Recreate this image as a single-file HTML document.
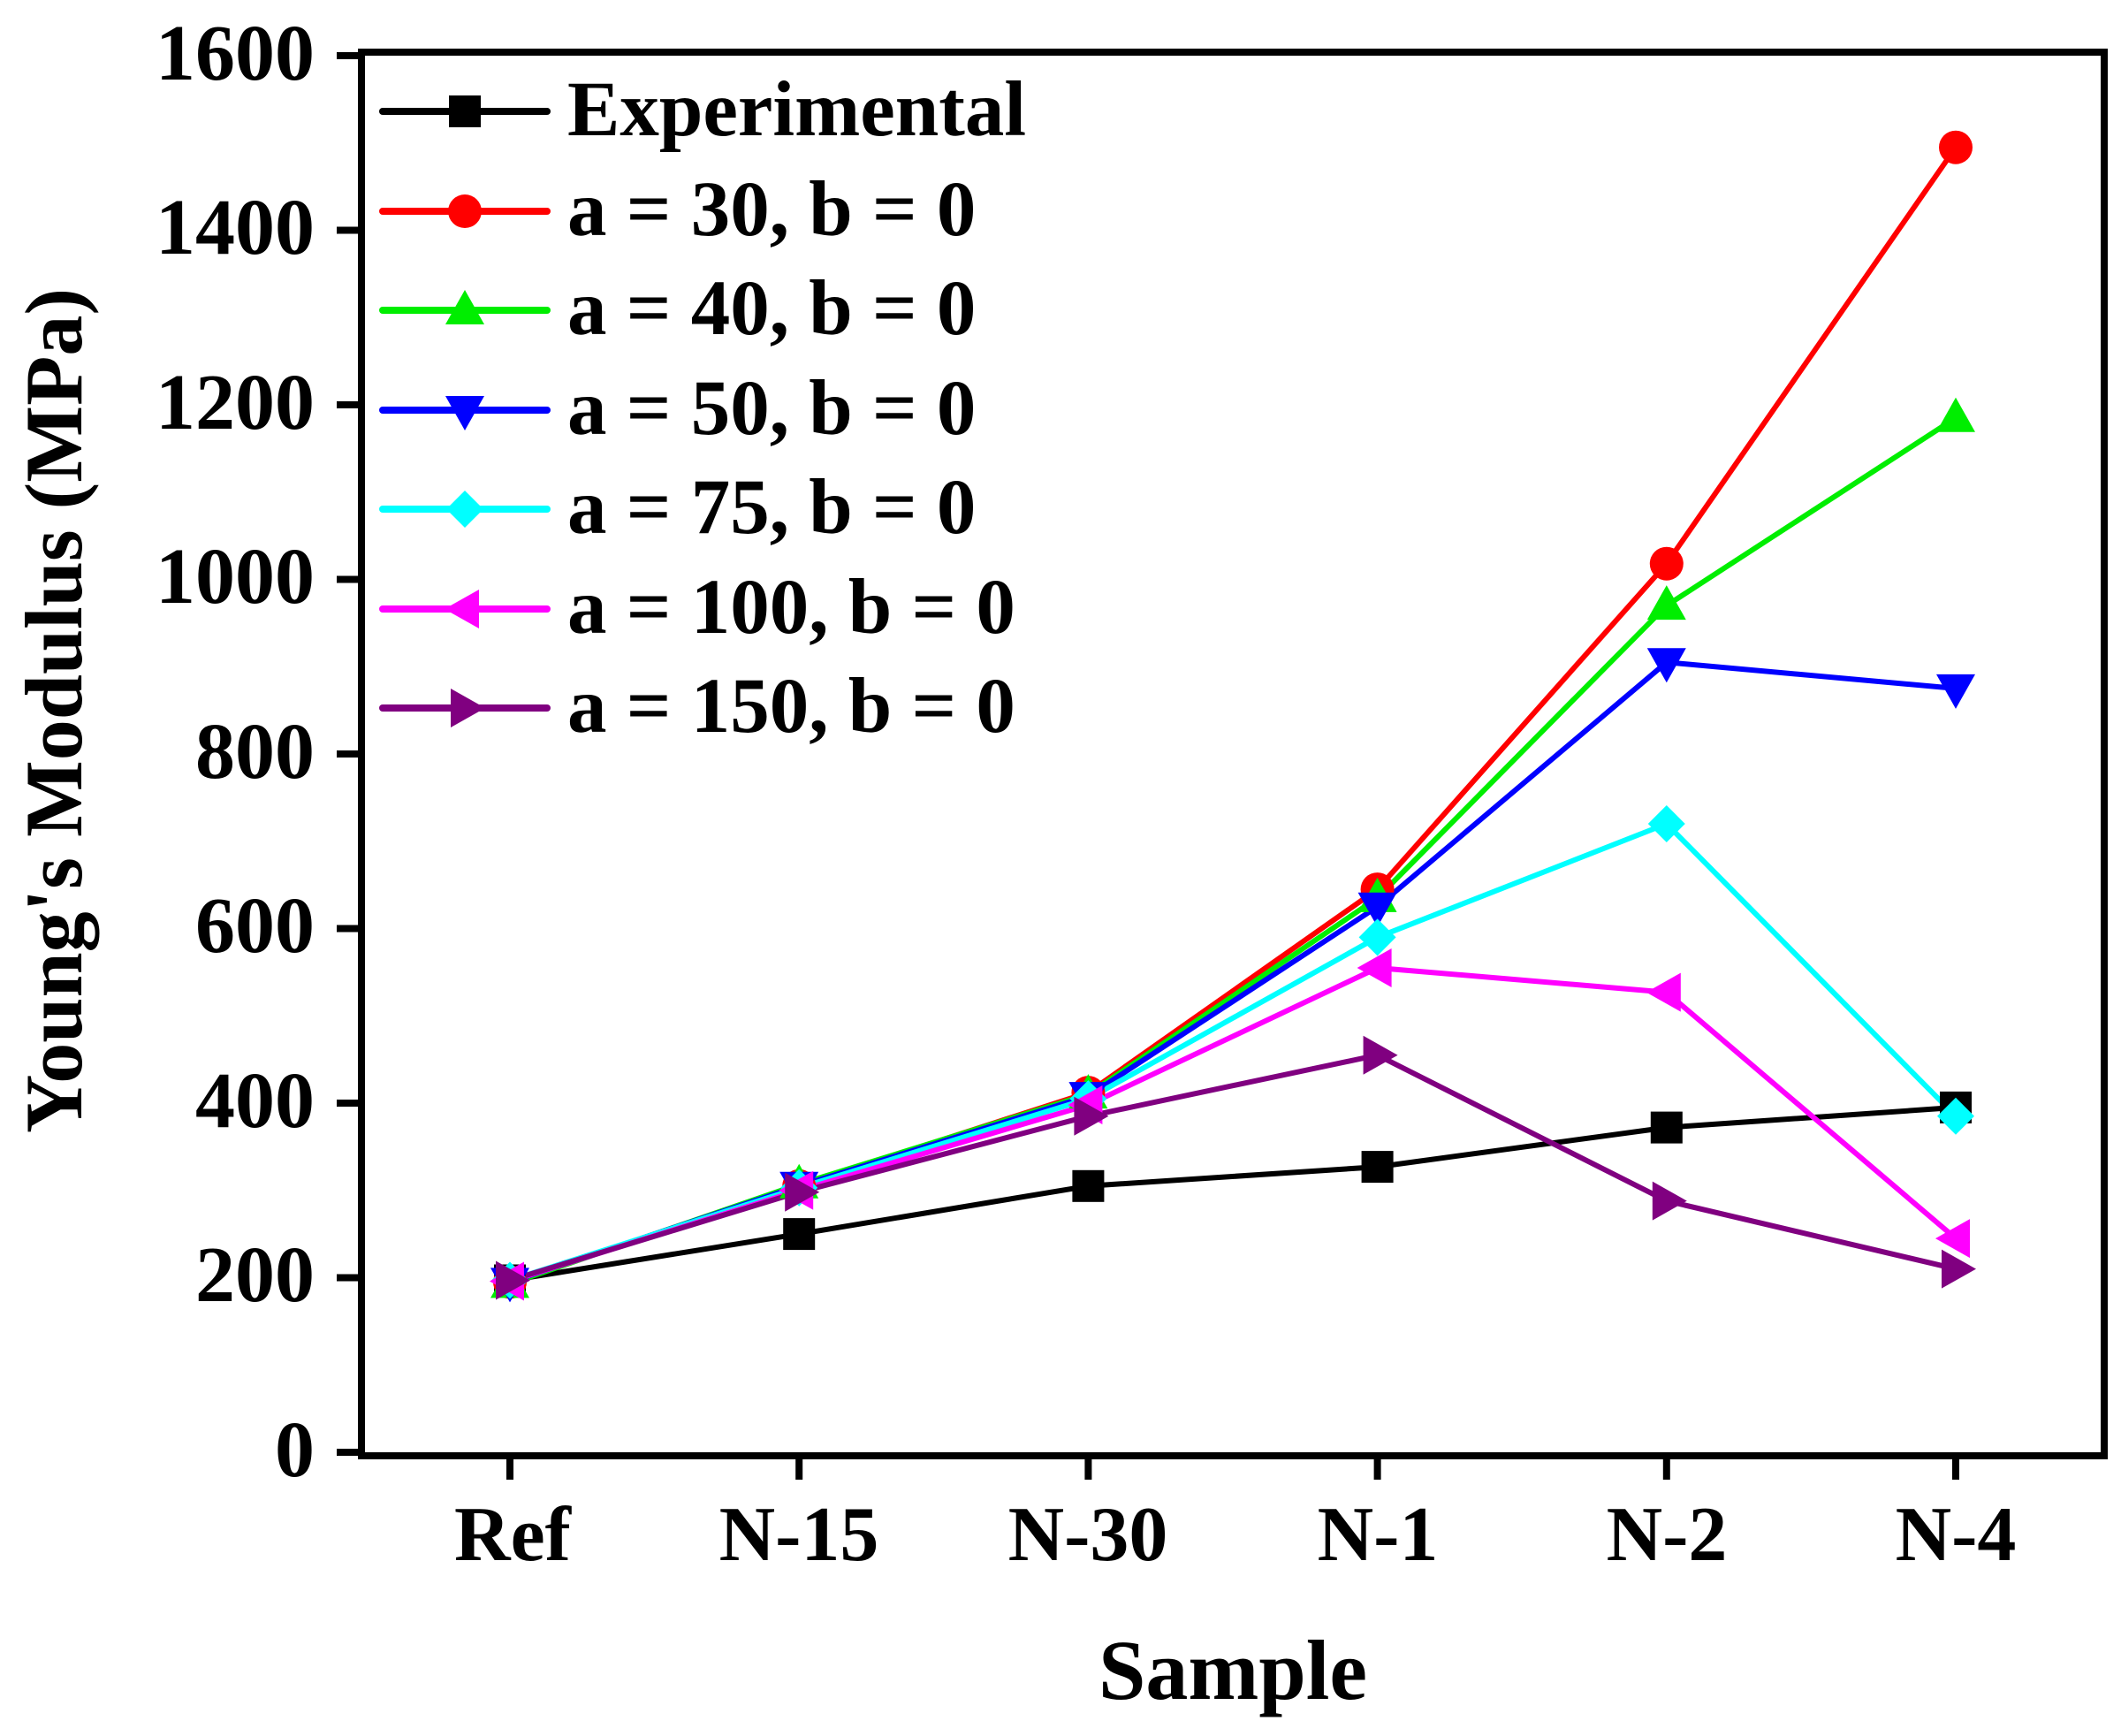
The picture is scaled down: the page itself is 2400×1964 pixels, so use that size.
<!DOCTYPE html>
<html><head><meta charset="utf-8"><style>
html,body{margin:0;padding:0;background:#fff}
svg{display:block}
text{font-family:"Liberation Serif",serif;font-weight:bold;fill:#000}
</style></head><body>
<svg width="2400" height="1964" viewBox="0 0 2400 1964" xmlns="http://www.w3.org/2000/svg">
<defs>
<rect id="sq" x="-18" y="-18" width="36" height="36" fill="#000"/>
<circle id="ci" r="19" fill="#ff0000"/>
<polygon id="tu" points="0,-23 22,16 -22,16" fill="#00ee00"/>
<polygon id="td" points="0,23 22,-16 -22,-16" fill="#0000ff"/>
<polygon id="di" points="0,-21 21,0 0,21 -21,0" fill="#00ffff"/>
<polygon id="tl" points="-23,0 16,-22 16,22" fill="#ff00ff"/>
<polygon id="tr" points="23,0 -16,-22 -16,22" fill="#800080"/>
</defs>
<rect x="409" y="59" width="1972" height="1588" fill="none" stroke="#000" stroke-width="8"/>
<g stroke="#000" stroke-width="8">
<line x1="381" y1="1643" x2="409" y2="1643"/>
<line x1="381" y1="1445.5" x2="409" y2="1445.5"/>
<line x1="381" y1="1248" x2="409" y2="1248"/>
<line x1="381" y1="1050.5" x2="409" y2="1050.5"/>
<line x1="381" y1="853" x2="409" y2="853"/>
<line x1="381" y1="655.5" x2="409" y2="655.5"/>
<line x1="381" y1="458" x2="409" y2="458"/>
<line x1="381" y1="260.5" x2="409" y2="260.5"/>
<line x1="381" y1="63" x2="409" y2="63"/>
<line x1="577" y1="1647" x2="577" y2="1674"/>
<line x1="904.2" y1="1647" x2="904.2" y2="1674"/>
<line x1="1231.4" y1="1647" x2="1231.4" y2="1674"/>
<line x1="1558.6" y1="1647" x2="1558.6" y2="1674"/>
<line x1="1885.8" y1="1647" x2="1885.8" y2="1674"/>
<line x1="2213" y1="1647" x2="2213" y2="1674"/>
</g>
<g font-size="90" text-anchor="end">
<text x="356" y="1670">0</text>
<text x="356" y="1472">200</text>
<text x="356" y="1275">400</text>
<text x="356" y="1077">600</text>
<text x="356" y="880">800</text>
<text x="356" y="682">1000</text>
<text x="356" y="485">1200</text>
<text x="356" y="287">1400</text>
<text x="356" y="90">1600</text>
</g>
<g font-size="88" text-anchor="middle">
<text x="580" y="1765">Ref</text>
<text x="904" y="1765">N-15</text>
<text x="1231" y="1765">N-30</text>
<text x="1559" y="1765">N-1</text>
<text x="1886" y="1765">N-2</text>
<text x="2213" y="1765">N-4</text>
</g>
<text x="1395" y="1922" font-size="96" text-anchor="middle">Sample</text>
<text transform="translate(92,804) rotate(-90)" font-size="92" text-anchor="middle">Young's Modulus (MPa)</text>
<g fill="none" stroke-width="6" stroke-linejoin="round">
<polyline stroke="#000" points="577,1448.5 904.2,1396.1 1231.4,1341.8 1558.6,1320.1 1885.8,1275.6 2213,1252.9"/>
<polyline stroke="#ff0000" points="577,1450.4 904.2,1341.8 1231.4,1236.1 1558.6,1006.1 1885.8,637.7 2213,166.7"/>
<polyline stroke="#00ee00" points="577,1452.4 904.2,1339.8 1231.4,1238.1 1558.6,1015.9 1885.8,685.1 2213,472.8"/>
<polyline stroke="#0000ff" points="577,1450.4 904.2,1341.8 1231.4,1240.1 1558.6,1025.8 1885.8,749.3 2213,778.9"/>
<polyline stroke="#00ffff" points="577,1448.5 904.2,1343.8 1231.4,1243.1 1558.6,1060.4 1885.8,932.0 2213,1262.8"/>
<polyline stroke="#ff00ff" points="577,1449.5 904.2,1346.8 1231.4,1250.0 1558.6,1095.0 1885.8,1122.6 2213,1401.1"/>
<polyline stroke="#800080" points="577,1448.5 904.2,1348.7 1231.4,1262.8 1558.6,1193.7 1885.8,1358.6 2213,1435.6"/>
</g>
<g>
<use href="#sq" x="577" y="1448.5"/><use href="#sq" x="904.2" y="1396.1"/><use href="#sq" x="1231.4" y="1341.8"/><use href="#sq" x="1558.6" y="1320.1"/><use href="#sq" x="1885.8" y="1275.6"/><use href="#sq" x="2213" y="1252.9"/>
<use href="#ci" x="577" y="1450.4"/><use href="#ci" x="904.2" y="1341.8"/><use href="#ci" x="1231.4" y="1236.1"/><use href="#ci" x="1558.6" y="1006.1"/><use href="#ci" x="1885.8" y="637.7"/><use href="#ci" x="2213" y="166.7"/>
<use href="#tu" x="577" y="1452.4"/><use href="#tu" x="904.2" y="1339.8"/><use href="#tu" x="1231.4" y="1238.1"/><use href="#tu" x="1558.6" y="1015.9"/><use href="#tu" x="1885.8" y="685.1"/><use href="#tu" x="2213" y="472.8"/>
<use href="#td" x="577" y="1450.4"/><use href="#td" x="904.2" y="1341.8"/><use href="#td" x="1231.4" y="1240.1"/><use href="#td" x="1558.6" y="1025.8"/><use href="#td" x="1885.8" y="749.3"/><use href="#td" x="2213" y="778.9"/>
<use href="#di" x="577" y="1448.5"/><use href="#di" x="904.2" y="1343.8"/><use href="#di" x="1231.4" y="1243.1"/><use href="#di" x="1558.6" y="1060.4"/><use href="#di" x="1885.8" y="932.0"/><use href="#di" x="2213" y="1262.8"/>
<use href="#tl" x="577" y="1449.5"/><use href="#tl" x="904.2" y="1346.8"/><use href="#tl" x="1231.4" y="1250.0"/><use href="#tl" x="1558.6" y="1095.0"/><use href="#tl" x="1885.8" y="1122.6"/><use href="#tl" x="2213" y="1401.1"/>
<use href="#tr" x="577" y="1448.5"/><use href="#tr" x="904.2" y="1348.7"/><use href="#tr" x="1231.4" y="1262.8"/><use href="#tr" x="1558.6" y="1193.7"/><use href="#tr" x="1885.8" y="1358.6"/><use href="#tr" x="2213" y="1435.6"/>
</g>
<g stroke-width="8" stroke-linecap="round">
<line x1="433" y1="126" x2="619" y2="126" stroke="#000"/>
<line x1="433" y1="239" x2="619" y2="239" stroke="#ff0000"/>
<line x1="433" y1="351" x2="619" y2="351" stroke="#00ee00"/>
<line x1="433" y1="464" x2="619" y2="464" stroke="#0000ff"/>
<line x1="433" y1="576" x2="619" y2="576" stroke="#00ffff"/>
<line x1="433" y1="689" x2="619" y2="689" stroke="#ff00ff"/>
<line x1="433" y1="801" x2="619" y2="801" stroke="#800080"/>
</g>
<use href="#sq" x="526" y="126"/><use href="#ci" x="526" y="239"/><use href="#tu" x="526" y="351"/><use href="#td" x="526" y="464"/><use href="#di" x="526" y="576"/><use href="#tl" x="526" y="689"/><use href="#tr" x="526" y="801"/>
<g font-size="89">
<text x="642" y="153">Experimental</text>
<text x="642" y="266">a = 30, b = 0</text>
<text x="642" y="378">a = 40, b = 0</text>
<text x="642" y="491">a = 50, b = 0</text>
<text x="642" y="603">a = 75, b = 0</text>
<text x="642" y="716">a = 100, b = 0</text>
<text x="642" y="828">a = 150, b = 0</text>
</g>
</svg>
</body></html>
